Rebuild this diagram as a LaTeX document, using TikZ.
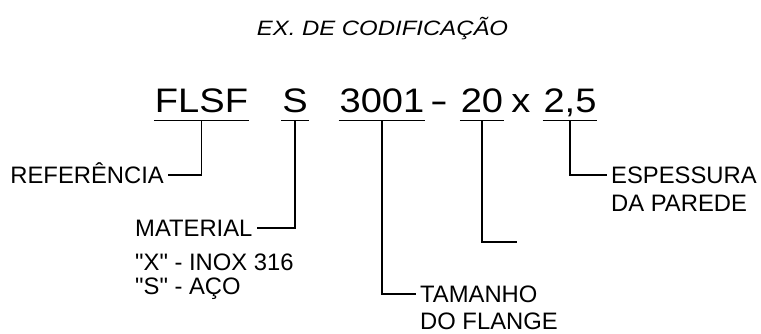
\documentclass[tikz,border=0pt]{standalone}
\usepackage{fontspec}
\setmainfont{Liberation Sans}[Ligatures=TeXOff]
\newfontfamily\bigfnt[FakeStretch=1.12]{Liberation Sans}
\newfontfamily\titfnt[FakeStretch=1.15]{Liberation Sans}
\begin{document}
\begin{tikzpicture}[x=1pt,y=-1pt,
  codepart/.style={font=\bigfnt\fontsize{34}{38}\selectfont, inner xsep=0.8pt, inner ysep=0pt, text depth=8pt, anchor=base},
  lbl/.style={font=\fontsize{23.8}{28}\selectfont, inner xsep=4pt, inner ysep=0pt, text height=17pt, text depth=0pt},
  wire/.style={line width=1.4pt}]
\useasboundingbox (0,0) rectangle (761,333);
\node[font=\titfnt\itshape\fontsize{20.8}{24}\selectfont, anchor=base, inner sep=0pt] (title) at (382.5,35) {EX. DE CODIFICAÇÃO};
% code parts
\node[codepart] (flsf) at (201.5,112) {FLSF};
\node[codepart] (s) at (295,112) {S};
\node[codepart] (n3001) at (382,112) {3001};
\node[codepart] (dash) at (439,112) {\scalebox{1.4}[1]{-}};
\node[codepart] (n20) at (482,112) {20};
\node[codepart] (xx) at (521,112) {x};
\node[codepart] (n25) at (570,112) {2,5};
% underlines
\foreach \n in {flsf,s,n3001,n20,n25}
  \draw[wire] (\n.south west) -- (\n.south east);
% labels
\node[lbl, anchor=east] (ref) at (168,175) {REFERÊNCIA};
\node[lbl, anchor=west] (mat) at (131,228) {MATERIAL};
\node[lbl, anchor=base west] (inox) at (131,270) {"X" - INOX 316};
\node[lbl, anchor=base west] (aco) at (131,294) {"S" - AÇO};
\node[lbl, anchor=west] (tam) at (416,294) {TAMANHO};
\node[lbl, anchor=base west] (flange) at (416,329) {DO FLANGE};
\node[lbl, anchor=west] (esp) at (607,175) {ESPESSURA};
\node[lbl, anchor=base west] (dap) at (607,211) {DA PAREDE};
\coordinate (end20) at (517,242);
% connectors
\draw[wire] (flsf.south) |- (ref.east);
\draw[wire] (s.south) |- (mat.east);
\draw[wire] (n3001.south) |- (tam.west);
\draw[wire] (n20.south) |- (end20);
\draw[wire] (n25.south) |- (esp.west);
\end{tikzpicture}
\end{document}
